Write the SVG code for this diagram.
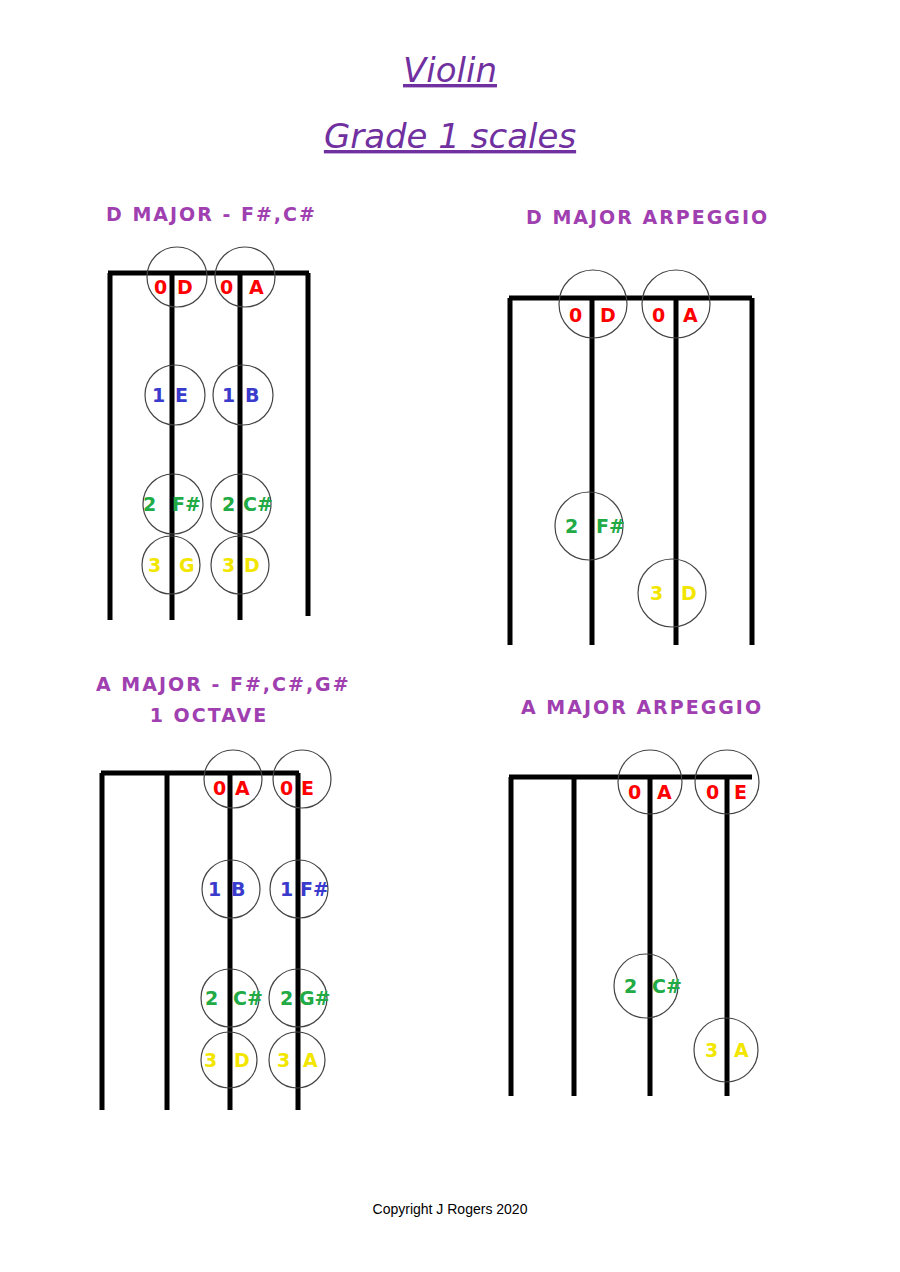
<svg xmlns="http://www.w3.org/2000/svg" width="900" height="1272" viewBox="0 0 900 1272">
<style>
.s{stroke:#000;stroke-width:5;fill:none}
.c{stroke:#444;stroke-width:1.2;fill:none}
.t{font-family:"DejaVu Sans",sans-serif;font-weight:bold;font-size:19px}
.h{font-family:"DejaVu Sans",sans-serif;font-weight:bold;font-size:19px;fill:#a040b0;letter-spacing:2px}
.r{fill:#ff0000}.b{fill:#3a3acc}.g{fill:#22aa44}.y{fill:#f2e600}
.ti{font-family:"DejaVu Sans",sans-serif;font-style:italic;font-size:34px;fill:#7030a0;text-decoration:underline;text-anchor:middle}
</style>
<rect width="900" height="1272" fill="#fff"/>
<text class="ti" x="450" y="82">Violin</text>
<text class="ti" x="450" y="148" font-size="32">Grade 1 scales</text>

<g id="d-major">
<text class="h" x="106" y="221">D MAJOR - F#,C#</text>
<path class="s" d="M108 273H309M110 273V620M172 273V620M240 273V620M308 273V616"/>
<circle class="c" cx="177" cy="277" r="30"/><circle class="c" cx="245" cy="277" r="30"/>
<circle class="c" cx="175" cy="395" r="30"/><circle class="c" cx="243" cy="395" r="30"/>
<circle class="c" cx="173" cy="504" r="30"/><circle class="c" cx="241" cy="504" r="30"/>
<circle class="c" cx="171" cy="565" r="29"/><circle class="c" cx="240" cy="565" r="29"/>
<text class="t r" x="154" y="294">0</text><text class="t r" x="177" y="294">D</text>
<text class="t r" x="220" y="294">0</text><text class="t r" x="249" y="294">A</text>
<text class="t b" x="152" y="402">1</text><text class="t b" x="175" y="402">E</text>
<text class="t b" x="222" y="402">1</text><text class="t b" x="245" y="402">B</text>
<text class="t g" x="143" y="511">2</text><text class="t g" x="172" y="511">F#</text>
<text class="t g" x="222" y="511">2</text><text class="t g" x="243" y="511">C#</text>
<text class="t y" x="148" y="572">3</text><text class="t y" x="179" y="572">G</text>
<text class="t y" x="222" y="572">3</text><text class="t y" x="244" y="572">D</text>
</g>

<g id="d-arpeggio">
<text class="h" x="526" y="224">D MAJOR ARPEGGIO</text>
<path class="s" d="M509 298H752M510 298V645M592 298V645M676 298V645M752 298V645"/>
<circle class="c" cx="593" cy="304" r="34"/><circle class="c" cx="676" cy="304" r="34"/>
<circle class="c" cx="589" cy="526" r="34"/><circle class="c" cx="672" cy="593" r="34"/>
<text class="t r" x="569" y="322">0</text><text class="t r" x="600" y="322">D</text>
<text class="t r" x="652" y="322">0</text><text class="t r" x="683" y="322">A</text>
<text class="t g" x="565" y="533">2</text><text class="t g" x="596" y="533">F#</text>
<text class="t y" x="650" y="600">3</text><text class="t y" x="681" y="600">D</text>
</g>

<g id="a-major">
<text class="h" x="96" y="691">A MAJOR - F#,C#,G#</text>
<text class="h" x="209" y="722" text-anchor="middle">1 OCTAVE</text>
<path class="s" d="M101 773H299M102 773V1110M167 773V1110M230 773V1110M298 773V1110"/>
<circle class="c" cx="233" cy="779" r="29"/><circle class="c" cx="302" cy="779" r="29"/>
<circle class="c" cx="231" cy="889" r="29"/><circle class="c" cx="299" cy="889" r="29"/>
<circle class="c" cx="230" cy="998" r="29"/><circle class="c" cx="298" cy="998" r="29"/>
<circle class="c" cx="229" cy="1060" r="28"/><circle class="c" cx="297" cy="1060" r="28"/>
<text class="t r" x="213" y="795">0</text><text class="t r" x="235" y="795">A</text>
<text class="t r" x="280" y="795">0</text><text class="t r" x="301" y="795">E</text>
<text class="t b" x="208" y="896">1</text><text class="t b" x="231" y="896">B</text>
<text class="t b" x="280" y="896">1</text><text class="t b" x="300" y="896">F#</text>
<text class="t g" x="205" y="1005">2</text><text class="t g" x="233" y="1005">C#</text>
<text class="t g" x="280" y="1005">2</text><text class="t g" x="299" y="1005">G#</text>
<text class="t y" x="204" y="1067">3</text><text class="t y" x="234" y="1067">D</text>
<text class="t y" x="277" y="1067">3</text><text class="t y" x="303" y="1067">A</text>
</g>

<g id="a-arpeggio">
<text class="h" x="521" y="714">A MAJOR ARPEGGIO</text>
<path class="s" d="M509 777H752M511 777V1096M574 777V1096M650 777V1096M727 777V1096"/>
<circle class="c" cx="650" cy="782" r="32"/><circle class="c" cx="727" cy="782" r="32"/>
<circle class="c" cx="646" cy="986" r="32"/><circle class="c" cx="726" cy="1050" r="32"/>
<text class="t r" x="628" y="799">0</text><text class="t r" x="657" y="799">A</text>
<text class="t r" x="706" y="799">0</text><text class="t r" x="734" y="799">E</text>
<text class="t g" x="624" y="993">2</text><text class="t g" x="652" y="993">C#</text>
<text class="t y" x="705" y="1057">3</text><text class="t y" x="734" y="1057">A</text>
</g>

<text x="450" y="1214" font-family="Liberation Sans, sans-serif" font-size="14" text-anchor="middle">Copyright J Rogers 2020</text>
</svg>
